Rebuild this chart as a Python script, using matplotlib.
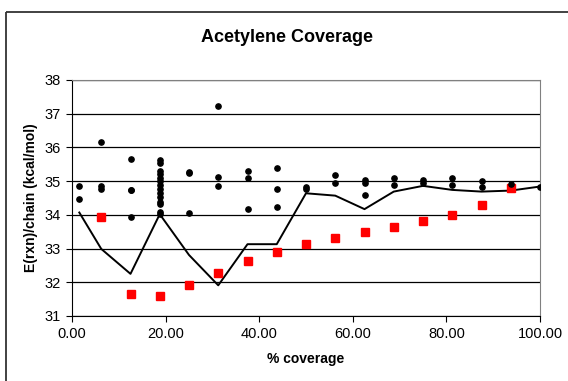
import matplotlib.pyplot as plt
from matplotlib.lines import Line2D

plt.rcParams["font.family"] = ["Liberation Sans", "DejaVu Sans"]

# individual configurations (black dots)
dot_x = (
    [1.5625] * 2 + [6.25] * 3 + [12.5] * 4 + [18.75] * 14 + [25.0] * 3
    + [31.25] * 3 + [37.5] * 3 + [43.75] * 3 + [50.0] * 2 + [56.25] * 2
    + [62.5] * 3 + [68.75] * 2 + [75.0] * 2 + [81.25] * 2 + [87.5] * 2
    + [93.75] + [100.0]
)
dot_y = (
    [34.87, 34.47]
    + [36.15, 34.85, 34.78]
    + [35.65, 34.73, 33.93, 34.73]
    + [35.63, 35.55, 35.30, 35.20, 35.10, 35.00, 34.88, 34.77, 34.64,
       34.54, 34.38, 34.32, 34.08, 34.02]
    + [35.28, 35.23, 34.06]
    + [37.24, 35.11, 34.87]
    + [35.30, 35.08, 34.17]
    + [35.40, 34.76, 34.22]
    + [34.84, 34.76]
    + [35.18, 34.94]
    + [35.03, 34.95, 34.59]
    + [35.10, 34.89]
    + [35.03, 34.95]
    + [35.08, 34.89]
    + [35.01, 34.84]
    + [34.91]
    + [34.84]
)

# averaged curve
avg_x = [1.5625, 6.25, 12.5, 18.75, 25.0, 31.25, 37.5, 43.75, 50.0,
         56.25, 62.5, 68.75, 75.0, 81.25, 87.5, 93.75, 100.0]
avg_y = [34.07, 32.99, 32.25, 34.02, 32.81, 31.91, 33.13, 33.13, 34.64,
         34.57, 34.17, 34.69, 34.86, 34.74, 34.69, 34.72, 34.84]

# lowest-energy series (red squares)
low_x = [6.25, 12.5, 18.75, 25.0, 31.25, 37.5, 43.75, 50.0, 56.25,
         62.5, 68.75, 75.0, 81.25, 87.5, 93.75]
low_y = [33.93, 31.64, 31.59, 31.91, 32.27, 32.62, 32.89, 33.14, 33.30,
         33.48, 33.63, 33.81, 34.00, 34.29, 34.79]

fig = plt.figure(figsize=(5.68, 3.81), dpi=100)

# chart-area frame (top and left edges only fall inside the canvas)
top = 1 - 11.5 / 381
left = 5.5 / 568
fig.lines.append(Line2D([left, 1.01], [top, top], transform=fig.transFigure,
                        color="#333333", linewidth=1.3,
                        solid_capstyle="butt"))
fig.lines.append(Line2D([left, left], [-0.01, top], transform=fig.transFigure,
                        color="#333333", linewidth=1.3,
                        solid_capstyle="butt"))

ax = fig.add_axes([72 / 568, 1 - 316 / 381, 468 / 568, 236 / 381])
ax.set_xlim(0, 100)
ax.set_ylim(31, 38)
ax.set_yticks(range(31, 39))
ax.set_xticks([0, 20, 40, 60, 80, 100])
ax.set_xticklabels(["%.2f" % v for v in [0, 20, 40, 60, 80, 100]])
ax.grid(axis="y", color="black", linewidth=0.9)
ax.set_axisbelow(True)

ax.plot(avg_x, avg_y, color="black", linewidth=1.4, zorder=3)
ax.plot(low_x, low_y, linestyle="none", marker="s", markersize=5.2,
        color="#ff0000", zorder=4)
ax.plot(dot_x, dot_y, linestyle="none", marker="o", markersize=3.8,
        color="black", zorder=5)

for side in ["top", "right"]:
    ax.spines[side].set_color("#808080")
for side in ["left", "bottom"]:
    ax.spines[side].set_color("black")
ax.tick_params(direction="out", length=4.5, width=0.8, labelsize=10.5)

ax.set_xlabel("% coverage", fontsize=10, fontweight="bold", labelpad=8)
ax.set_ylabel("E(rxn)/chain (kcal/mol)", fontsize=10, fontweight="bold",
              labelpad=5)
fig.text(0.505, 1 - 38 / 381, "Acetylene Coverage", ha="center",
         va="center", fontsize=13, fontweight="bold")

fig.savefig("out.png", dpi=100)
